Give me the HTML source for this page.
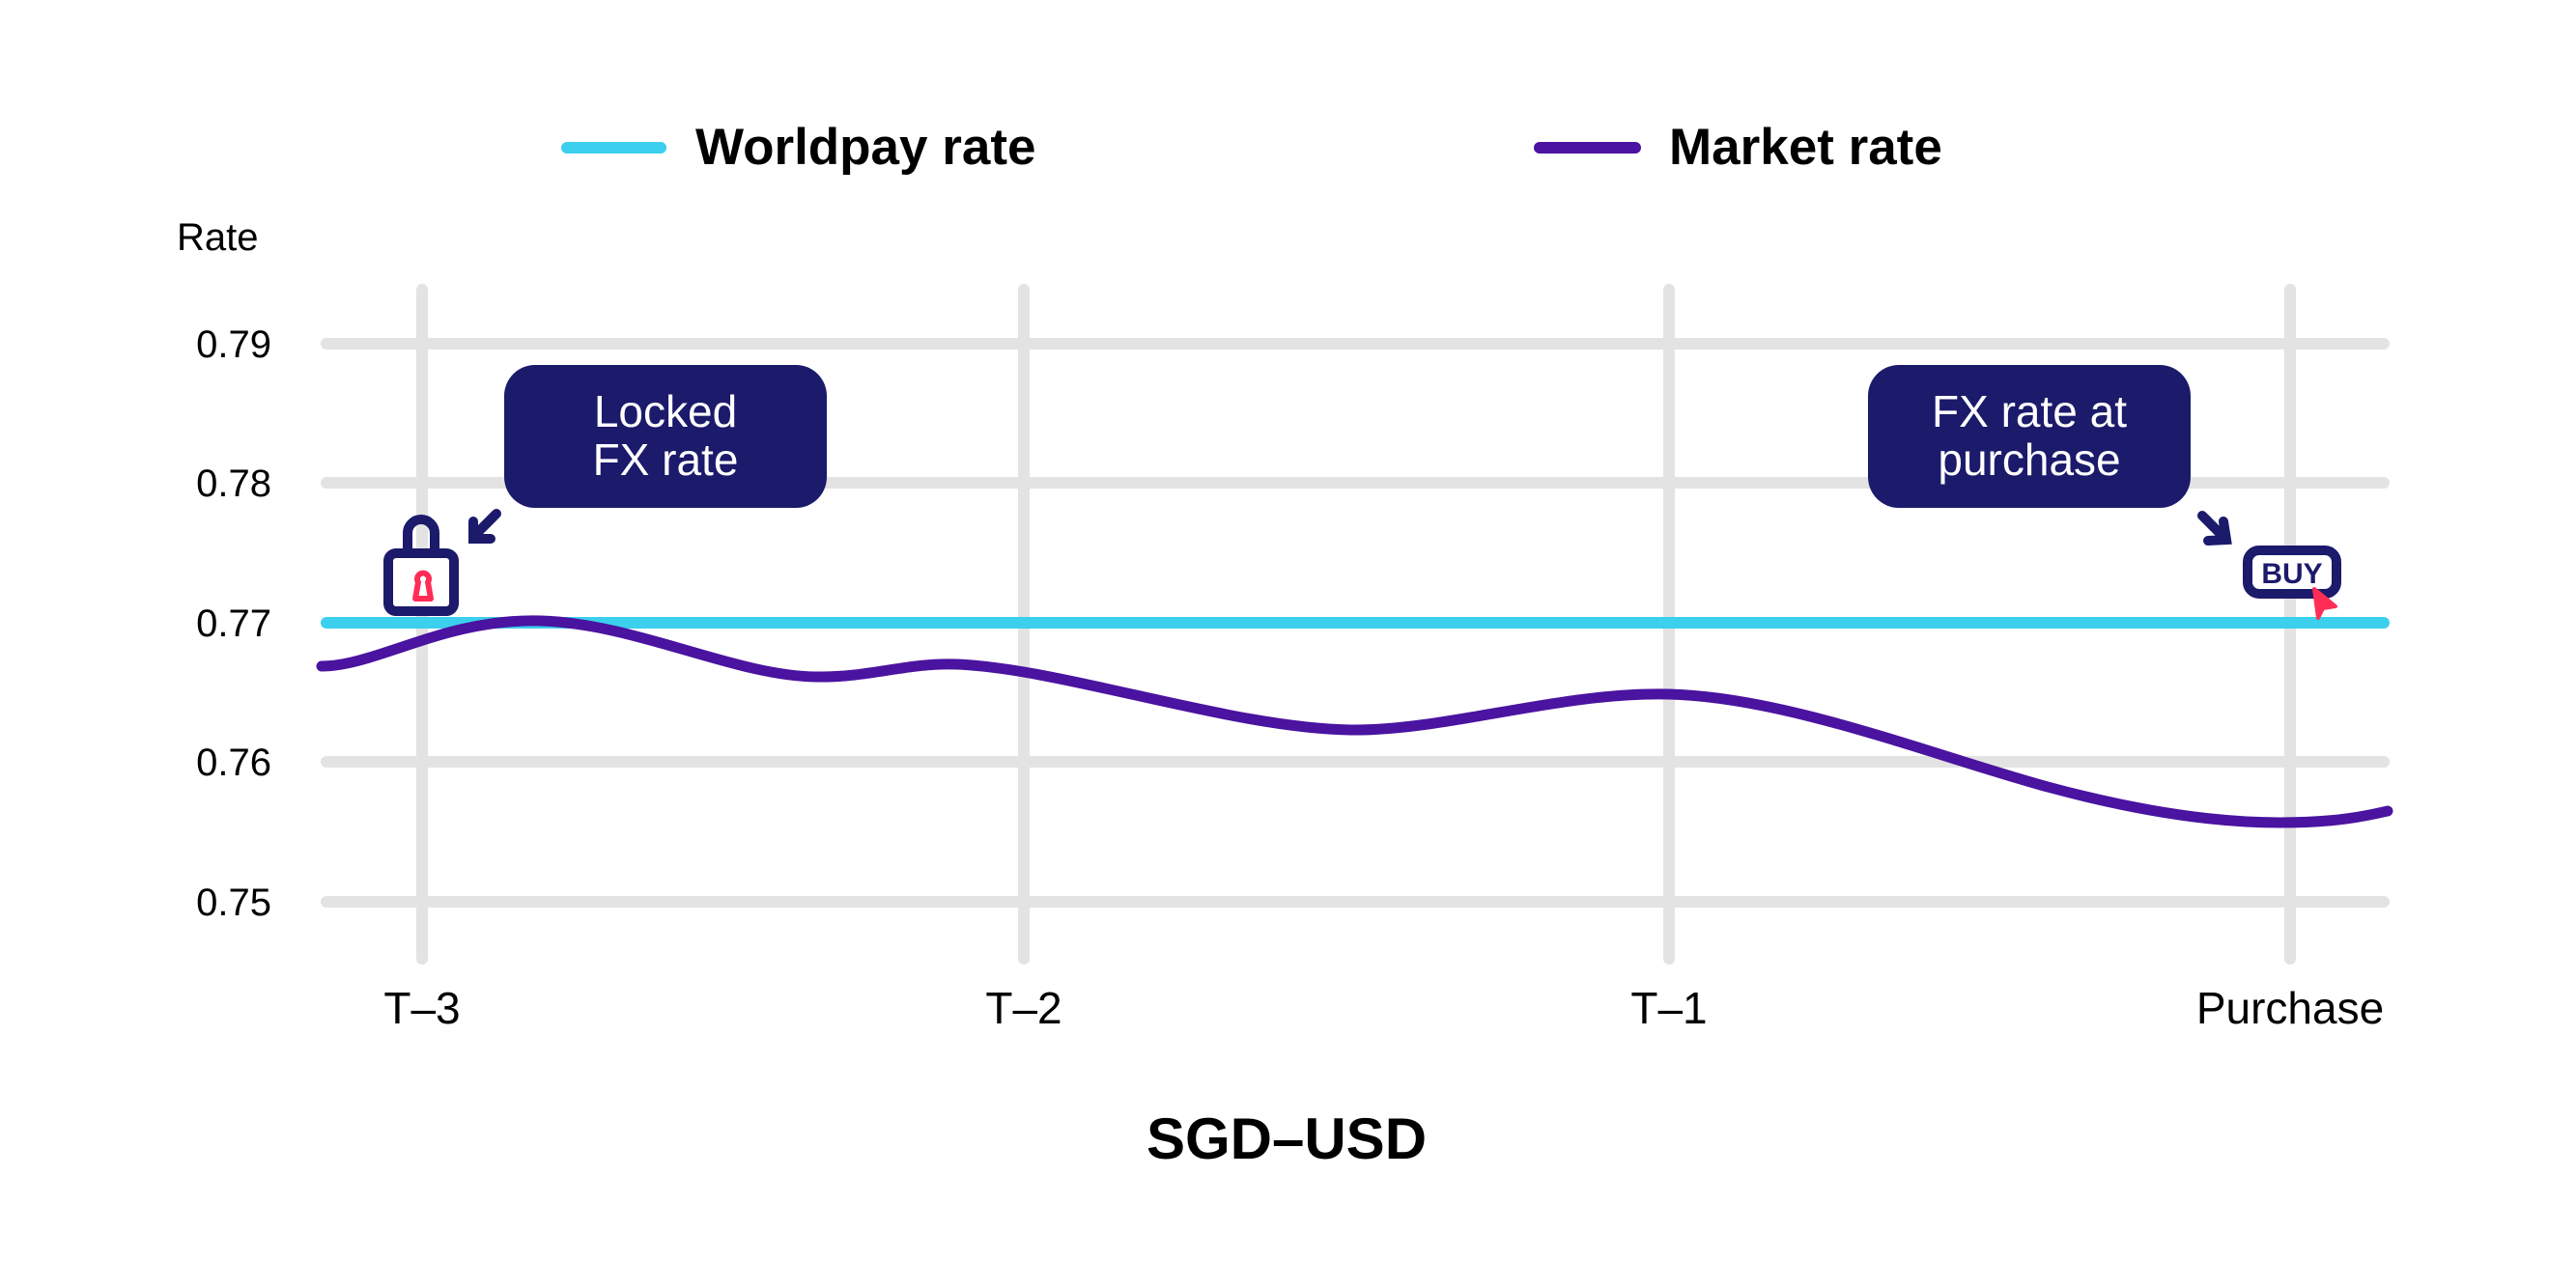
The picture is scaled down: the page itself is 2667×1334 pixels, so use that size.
<!DOCTYPE html>
<html><head><meta charset="utf-8"><style>
html,body{margin:0;padding:0;background:#fff}
svg{display:block}
text{font-family:"Liberation Sans",sans-serif}
</style></head><body>
<svg width="2667" height="1334" viewBox="0 0 2667 1334" xmlns="http://www.w3.org/2000/svg">
<rect width="2667" height="1334" fill="#fff"/>
<line x1="587" y1="153" x2="684" y2="153" stroke="#3ccfee" stroke-width="12" stroke-linecap="round"/>
<text x="720" y="170" font-size="53" font-weight="bold" fill="#000">Worldpay rate</text>
<line x1="1594" y1="153" x2="1693" y2="153" stroke="#4a13a0" stroke-width="12" stroke-linecap="round"/>
<text x="1728" y="170" font-size="53" font-weight="bold" fill="#000">Market rate</text>
<text x="183" y="259" font-size="40" fill="#000">Rate</text>
<g stroke="#e3e3e3" stroke-width="12" stroke-linecap="round">
<line x1="437" y1="300" x2="437" y2="993"/>
<line x1="1060" y1="300" x2="1060" y2="993"/>
<line x1="1728" y1="300" x2="1728" y2="993"/>
<line x1="2371" y1="300" x2="2371" y2="993"/>
<line x1="338" y1="356" x2="2468" y2="356"/>
<line x1="338" y1="500" x2="2468" y2="500"/>
<line x1="338" y1="789" x2="2468" y2="789"/>
<line x1="338" y1="934" x2="2468" y2="934"/>
</g>
<g font-size="40" fill="#000" text-anchor="end">
<text x="281" y="370">0.79</text>
<text x="281" y="514">0.78</text>
<text x="281" y="659">0.77</text>
<text x="281" y="803">0.76</text>
<text x="281" y="948">0.75</text>
</g>
<g font-size="46" fill="#000" text-anchor="middle">
<text x="437" y="1060">T–3</text>
<text x="1060" y="1060">T–2</text>
<text x="1728" y="1060">T–1</text>
<text x="2371" y="1060">Purchase</text>
</g>
<text x="1332" y="1200" font-size="60" font-weight="bold" text-anchor="middle" fill="#000">SGD–USD</text>
<line x1="338" y1="645" x2="2468" y2="645" stroke="#3ccfee" stroke-width="12" stroke-linecap="round"/>
<path d="M333 690 C390 690 460 640 560 643 C660 646 760 700 845 701 C900 702 940 686 990 688 C1100 692 1280 756 1403 756 C1500 756 1620 716 1728 719 C1850 722 2000 782 2120 815 C2220 842 2300 852 2360 852 C2420 852 2450 845 2472 840" fill="none" stroke="#4a13a0" stroke-width="11" stroke-linecap="round"/>
<rect x="522" y="378" width="334" height="148" rx="32" fill="#1b1a6b"/>
<text x="689" y="442" font-size="46" fill="#fff" text-anchor="middle">Locked</text>
<text x="689" y="492" font-size="46" fill="#fff" text-anchor="middle">FX rate</text>
<rect x="1934" y="378" width="334" height="148" rx="32" fill="#1b1a6b"/>
<text x="2101" y="442" font-size="46" fill="#fff" text-anchor="middle">FX rate at</text>
<text x="2101" y="492" font-size="46" fill="#fff" text-anchor="middle">purchase</text>
<path d="M422 568 V552 A14 14 0 0 1 450 552 V568" fill="none" stroke="#1b1a6b" stroke-width="10"/>
<rect x="402" y="573" width="68" height="60" rx="8" fill="#fff" stroke="#1b1a6b" stroke-width="10"/>
<path d="M430 620 L433 603 A6 6 0 1 1 443 603 L446 620 Z" fill="#fff" stroke="#ff2d55" stroke-width="6" stroke-linejoin="round"/>
<g stroke="#1b1a6b" stroke-width="10" stroke-linecap="round" fill="none">
<line x1="514" y1="532" x2="490" y2="556"/><polyline points="490,540 490,558 508,558"/>
</g>
<g stroke="#1b1a6b" stroke-width="10" stroke-linecap="round" fill="none">
<line x1="2280" y1="534" x2="2304" y2="558"/><polyline points="2302,540 2305,559 2286,560"/>
</g>
<rect x="2327" y="570" width="92" height="45" rx="12" fill="#fff" stroke="#1b1a6b" stroke-width="10"/>
<text x="2373" y="604" font-size="30" font-weight="bold" fill="#1b1a6b" text-anchor="middle">BUY</text>
<path d="M2396 610 L2418 628 L2405 630 L2400 640 Z" fill="#ff2d55" stroke="#ff2d55" stroke-width="4" stroke-linejoin="round"/>
</svg>
</body></html>
